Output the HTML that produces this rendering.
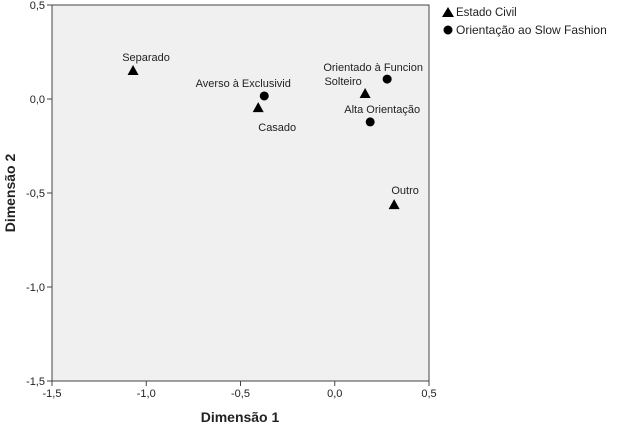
<!DOCTYPE html>
<html><head><meta charset="utf-8"><style>
body{margin:0;background:#fff;}
svg{display:block;font-family:"Liberation Sans",sans-serif;}
</style></head><body>
<svg id="chart" width="630" height="431" viewBox="0 0 630 431">
<rect x="52" y="5" width="377" height="376" fill="#f0f0f0" stroke="#444" stroke-width="1"/>
<g id="axes"></g>
<g id="marks"></g>
<text x="240" y="422" text-anchor="middle" font-size="14" font-weight="bold" fill="#222">Dimensão 1</text>
<text transform="translate(15,193) rotate(-90)" text-anchor="middle" font-size="14" font-weight="bold" fill="#222">Dimensão 2</text>
<g>
<g>
<polygon points="442,17 448,7 454,17" fill="#000"/>
<text x="456" y="16" font-size="11.5" fill="#222">Estado Civil</text></g>
<g>
<circle cx="448" cy="30" r="4.5" fill="#000"/>
<text x="456" y="34" font-size="12" fill="#222">Orientação ao Slow Fashion</text></g>
</g>
</svg>
<script>
const labels=["Separado","Casado","Solteiro","Outro","Averso à Exclusivid","Orientado à Funcion","Alta Orientação"];
const groups=["tri","tri","tri","tri","dot","dot","dot"];
const dim1=[-1.07,-0.406,0.161,0.315,-0.374,0.278,0.188];
const dim2=[0.154,-0.043,0.032,-0.559,0.016,0.106,-0.122];
const xTicks=[-1.5,-1.0,-0.5,0.0,0.5];
const yTicks=[0.5,0.0,-0.5,-1.0,-1.5];
const labelDx=[13,19,-22,11,-21,-14,12];
const labelDy=[-9,24,-8,-10,-9,-8,-9];
const NS="http://www.w3.org/2000/svg";
const X=v=>52+(v+1.5)/2*377;
const Y=v=>5+(0.5-v)/2*376;
const fmt=v=>v.toFixed(1).replace('.',',');
const axes=document.getElementById('axes'),marks=document.getElementById('marks');
function mk(t,a,p){const e=document.createElementNS(NS,t);for(const k in a)e.setAttribute(k,a[k]);p.appendChild(e);return e;}
xTicks.forEach(v=>{
 mk('line',{x1:X(v),x2:X(v),y1:381,y2:386,stroke:'#444'},axes);
 const t=mk('text',{x:X(v),y:397,'text-anchor':'middle','font-size':11,fill:'#222'},axes);t.textContent=fmt(v);
 
 
});
yTicks.forEach(v=>{
 mk('line',{x1:47,x2:52,y1:Y(v),y2:Y(v),stroke:'#444'},axes);
 const t=mk('text',{x:45,y:Y(v)+4,'text-anchor':'end','font-size':11,fill:'#222'},axes);t.textContent=fmt(v);
 
 
});
labels.forEach((l,i)=>{
 const x=X(dim1[i]),y=Y(dim2[i]);
 let m;
 if(groups[i]==='tri') m=mk('polygon',{points:`${x-5.5},${y+5} ${x},${y-5} ${x+5.5},${y+5}`,fill:'#000'},marks);
 else m=mk('circle',{cx:x,cy:y,r:4.5,fill:'#000'},marks);
 
 
 const t=mk('text',{x:x+labelDx[i],y:y+labelDy[i],'text-anchor':'middle','font-size':11,fill:'#222'},marks);
 t.textContent=l;
 
 
});
</script>
</body></html>
